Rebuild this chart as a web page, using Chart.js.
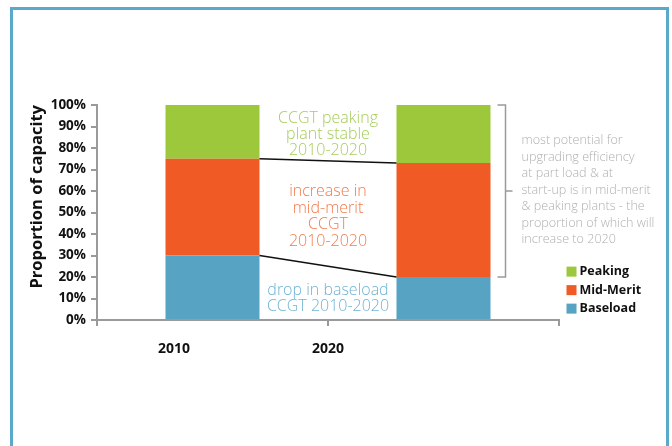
<!DOCTYPE html>
<html>
<head>
<meta charset="utf-8">
<script src="https://cdn.jsdelivr.net/npm/chart.js@4/dist/chart.umd.min.js"></script>
<style>
  html, body { margin: 0; padding: 0; background: #fff; overflow: hidden; }
  #frame {
    position: absolute; left: 10px; top: 7px; width: 653px; height: 470px;
    border: 3px solid #5aa8cb;
  }
  #chart { position: absolute; left: 0; top: 0; z-index: 1; }
</style>
</head>
<body>
<div id="frame"></div>
<canvas id="chart" width="672" height="446"></canvas>
<script>
// Capacity mix of CCGT plant, share of total (%)
const years = ['2010', '2020'];
const baseload = [30, 20];
const midMerit = [45, 53];
const peaking = [25, 27];

// year captions sit on a 0..3 helper axis under the bars
const yearLabelSlots = [0.5, 1.5];

const peakingNote = ['CCGT peaking', 'plant stable', '2010-2020'];
const midMeritNote = ['increase in', 'mid-merit', 'CCGT', '2010-2020'];
const baseloadNote = ['drop in baseload', 'CCGT 2010-2020'];
const sideNote = [
  'most potential for',
  'upgrading efficiency',
  'at part load & at',
  'start-up is in mid-merit',
  '& peaking plants - the',
  'proportion of which will',
  'increase to 2020'
];

const COLORS = {
  baseload: '#57a3c4',
  midMerit: '#f05a24',
  peaking: '#9dc83b',
  baseloadText: '#6fb3d2',
  midMeritText: '#f37a4c',
  peakingText: '#a6cd5c',
  note: '#b0b0b0',
  axis: '#9a9a9a'
};

const NOTE_FONT = '300 16px "Open Sans", sans-serif';
const SIDE_FONT = '300 12.6px "Open Sans", sans-serif';
const BOLD = '"Open Sans", sans-serif';

const annotations = {
  id: 'annotations',
  afterDatasetsDraw(chart) {
    const ctx = chart.ctx;
    const y = chart.scales.y;
    const x = chart.scales.x;
    const m0 = chart.getDatasetMeta(0).data;
    const right0 = m0[0].x + m0[0].width / 2;
    const left1 = m0[1].x - m0[1].width / 2;
    const right1 = m0[1].x + m0[1].width / 2;

    ctx.save();
    // connector lines between the two bars
    ctx.strokeStyle = '#111';
    ctx.lineWidth = 1.5;
    ctx.beginPath();
    ctx.moveTo(right0, y.getPixelForValue(baseload[0]));
    ctx.lineTo(left1, y.getPixelForValue(baseload[1]));
    ctx.moveTo(right0, y.getPixelForValue(baseload[0] + midMerit[0]));
    ctx.lineTo(left1, y.getPixelForValue(baseload[1] + midMerit[1]));
    ctx.stroke();

    // bracket around the mid-merit + peaking share of 2020
    const bx = right1 + 15;
    const bTop = y.getPixelForValue(baseload[1] + midMerit[1] + peaking[1]);
    const bBot = y.getPixelForValue(baseload[1]);
    const bMid = (bTop + bBot) / 2;
    ctx.strokeStyle = COLORS.axis;
    ctx.lineWidth = 1.5;
    ctx.beginPath();
    ctx.moveTo(bx - 8, bTop);
    ctx.lineTo(bx, bTop);
    ctx.lineTo(bx, bBot);
    ctx.lineTo(bx - 8, bBot);
    ctx.moveTo(bx, bMid);
    ctx.lineTo(bx + 7, bMid);
    ctx.stroke();

    // centred notes between the bars
    const cx = (x.getPixelForValue(0) + x.getPixelForValue(1)) / 2;
    ctx.textAlign = 'center';
    ctx.textBaseline = 'middle';
    ctx.font = NOTE_FONT;
    const block = (lines, color, startVal, step) => {
      ctx.fillStyle = color;
      const y0 = y.getPixelForValue(startVal);
      lines.forEach((t, i) => ctx.fillText(t, cx, y0 + i * step));
    };
    block(peakingNote, COLORS.peakingText, 93.6, 16);
    block(midMeritNote, COLORS.midMeritText, 59.8, 16.6);
    block(baseloadNote, COLORS.baseloadText, 13.8, 16.5);

    // side note right of the bracket
    ctx.textAlign = 'left';
    ctx.font = SIDE_FONT;
    ctx.fillStyle = COLORS.note;
    const sy = y.getPixelForValue(83.3);
    sideNote.forEach((t, i) => ctx.fillText(t, bx + 16, sy + i * 16.5));

    // legend (top to bottom: peaking, mid-merit, baseload)
    ctx.font = 'bold 12.5px ' + BOLD;
    const items = chart.data.datasets.slice().reverse();
    const lx = bx + 61;
    const ly = y.getPixelForValue(22.5);
    items.forEach((ds, i) => {
      const yy = ly + i * 18.5;
      ctx.fillStyle = ds.backgroundColor;
      ctx.fillRect(lx, yy - 5, 10, 10);
      ctx.fillStyle = '#111';
      ctx.fillText(ds.label, lx + 13, yy);
    });
    ctx.restore();
  }
};

new Chart(document.getElementById('chart'), {
  type: 'bar',
  data: {
    labels: years,
    datasets: [
      { label: 'Baseload', data: baseload, backgroundColor: COLORS.baseload },
      { label: 'Mid-Merit', data: midMerit, backgroundColor: COLORS.midMerit },
      { label: 'Peaking', data: peaking, backgroundColor: COLORS.peaking }
    ]
  },
  options: {
    responsive: false,
    devicePixelRatio: 1,
    animation: false,
    categoryPercentage: 1,
    barPercentage: 0.407,
    layout: { padding: { left: 27, top: 105, right: 113, bottom: 80 } },
    plugins: { legend: { display: false }, tooltip: { enabled: false } },
    scales: {
      x: {
        stacked: true,
        offset: true,
        ticks: { display: false },
        grid: { offset: true, drawOnChartArea: false, drawTicks: true, tickLength: 6, color: COLORS.axis, lineWidth: 2 },
        border: { color: COLORS.axis, width: 2 },
        afterFit(s) { s.height = 6; }
      },
      x2: {
        type: 'linear',
        position: 'bottom',
        min: 0,
        max: 3,
        offset: false,
        afterBuildTicks(s) { s.ticks = yearLabelSlots.map(v => ({ value: v })); },
        ticks: {
          padding: 15,
          color: '#111',
          font: { family: BOLD, weight: 'bold', size: 14 },
          callback: (v, i) => years[i]
        },
        grid: { display: false, drawTicks: false, offset: false },
        border: { display: false },
        afterFit(s) { s.height = 40; }
      },
      y: {
        stacked: true,
        min: 0,
        max: 100,
        ticks: {
          stepSize: 10,
          padding: 5,
          color: '#111',
          font: { family: BOLD, weight: 'bold', size: 13.5 },
          callback: v => v + '%'
        },
        grid: { drawOnChartArea: false, drawTicks: true, tickLength: 6, color: COLORS.axis, lineWidth: 2 },
        border: { color: COLORS.axis, width: 2 },
        title: {
          display: true,
          text: 'Proportion of capacity',
          align: 'end',
          color: '#111',
          padding: { top: 0, bottom: 0 },
          font: { family: BOLD, weight: 'bold', size: 16.5 }
        },
        afterFit(s) { s.width = 70; }
      }
    }
  },
  plugins: [annotations]
});
</script>
</body>
</html>
